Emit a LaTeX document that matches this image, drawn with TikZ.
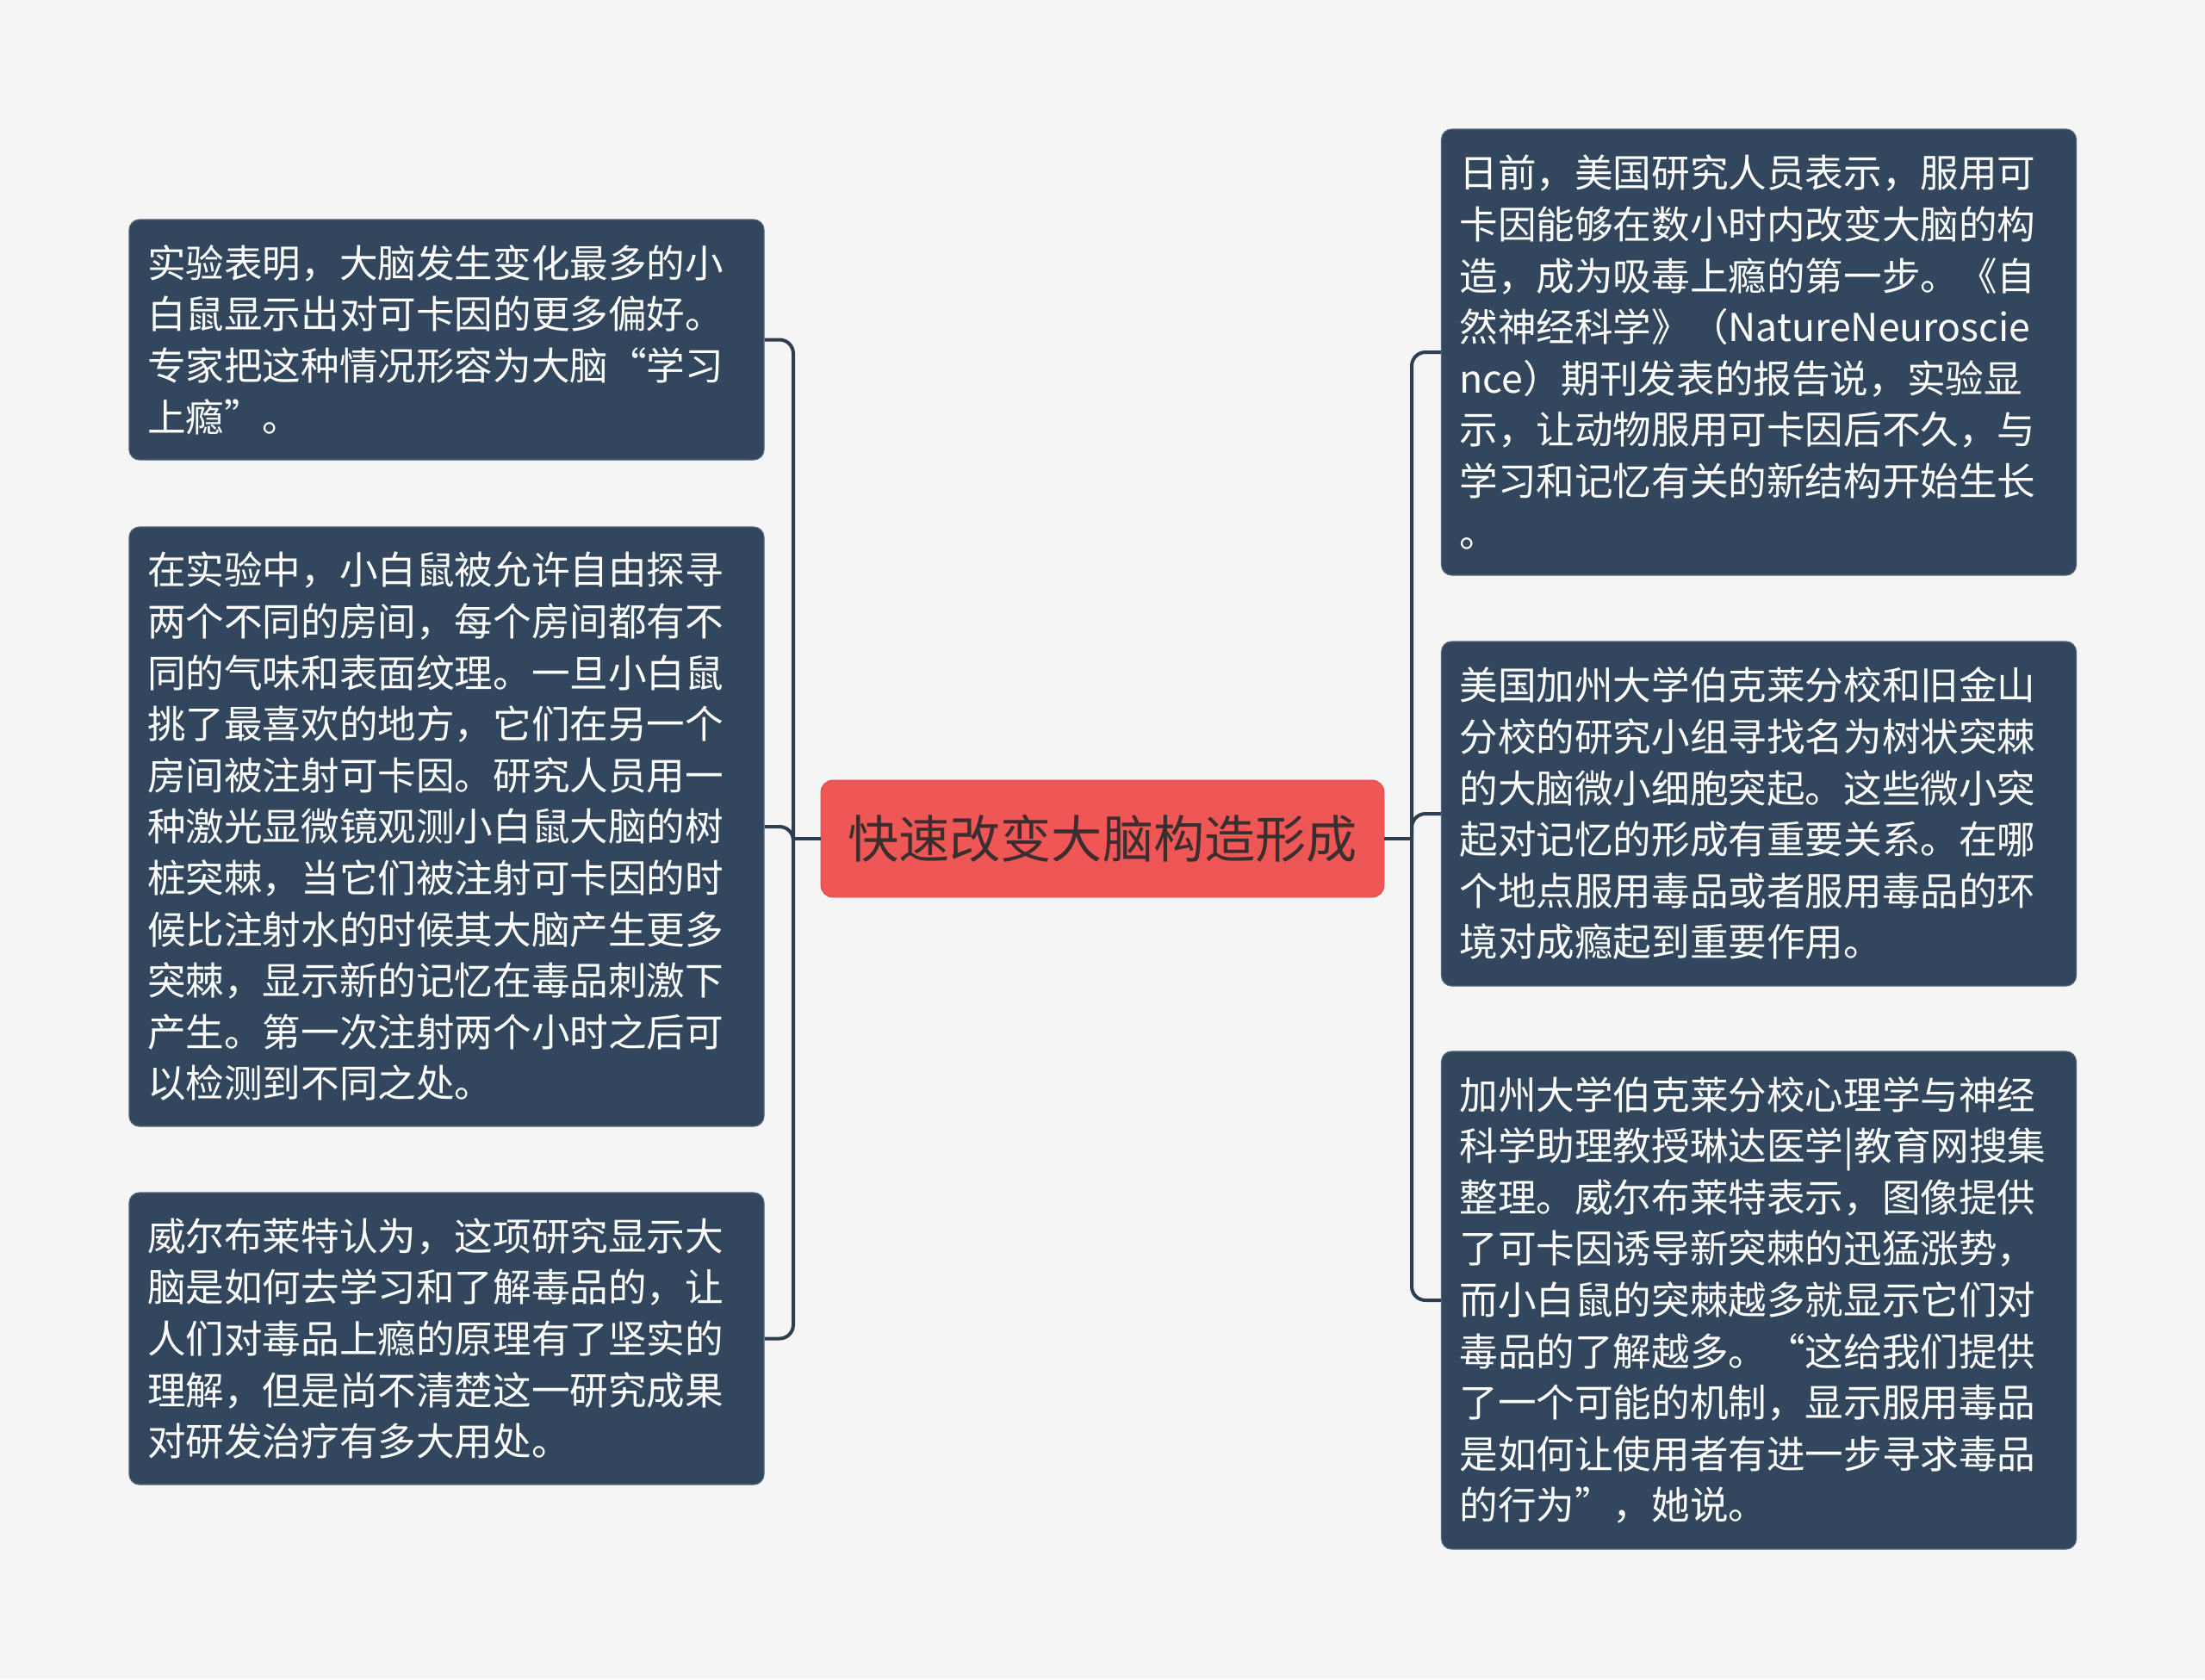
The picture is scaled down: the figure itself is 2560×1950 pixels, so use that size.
\documentclass[tikz,border=0pt]{standalone}
\usepackage{fontspec}
\setmainfont{Noto Sans CJK SC}
\definecolor{bgc}{RGB}{245,245,245}
\definecolor{boxc}{RGB}{50,71,94}
\definecolor{linec}{RGB}{44,62,80}
\definecolor{redc}{RGB}{239,86,86}
\definecolor{titlec}{RGB}{58,46,46}
\tikzset{
  leaf/.style={fill=boxc, draw=boxc!85!white, line width=0.6pt, rounded corners=6pt, text=white,
    text width=347.5pt, align=left, inner xsep=10.5pt, inner ysep=0pt,
    minimum width=368.5pt, font=\fontsize{22.3}{29.8}\selectfont},
  root/.style={fill=redc, draw=redc!90!black, line width=0.4pt, rounded corners=7pt, text=titlec,
    minimum width=327pt, minimum height=68pt, inner sep=0pt, font=\fontsize{29.6}{36}\selectfont},
  conn/.style={draw=linec, line width=2pt, rounded corners=8pt}
}
\begin{document}
\begin{tikzpicture}[x=0.5pt,y=-0.5pt]
\fill[bgc] (0,0) rectangle (2560,1950);
\node[root] (C) at (1280,974) {快速改变大脑构造形成};
\node[leaf, minimum height=139.5pt] (L1) at (518.5,394.5) {实验表明，大脑发生变化最多的小\\白鼠显示出对可卡因的更多偏好。\\专家把这种情况形容为大脑“学习\\上瘾”。};
\node[leaf, minimum height=348pt] (L2) at (518.5,960) {在实验中，小白鼠被允许自由探寻\\两个不同的房间，每个房间都有不\\同的气味和表面纹理。一旦小白鼠\\挑了最喜欢的地方，它们在另一个\\房间被注射可卡因。研究人员用一\\种激光显微镜观测小白鼠大脑的树\\桩突棘，当它们被注射可卡因的时\\候比注射水的时候其大脑产生更多\\突棘，显示新的记忆在毒品刺激下\\产生。第一次注射两个小时之后可\\以检测到不同之处。};
\node[leaf, minimum height=169.5pt] (L3) at (518.5,1554.5) {威尔布莱特认为，这项研究显示大\\脑是如何去学习和了解毒品的，让\\人们对毒品上瘾的原理有了坚实的\\理解，但是尚不清楚这一研究成果\\对研发治疗有多大用处。};
\node[leaf, minimum height=259pt] (R1) at (2042,409) {日前，美国研究人员表示，服用可\\卡因能够在数小时内改变大脑的构\\造，成为吸毒上瘾的第一步。《自\\然神经科学》（NatureNeuroscie\\nce）期刊发表的报告说，实验显\\示，让动物服用可卡因后不久，与\\学习和记忆有关的新结构开始生长\\。};
\node[leaf, minimum height=200pt] (R2) at (2042,945) {美国加州大学伯克莱分校和旧金山\\分校的研究小组寻找名为树状突棘\\的大脑微小细胞突起。这些微小突\\起对记忆的形成有重要关系。在哪\\个地点服用毒品或者服用毒品的环\\境对成瘾起到重要作用。};
\node[leaf, minimum height=289pt] (R3) at (2042,1510) {加州大学伯克莱分校心理学与神经\\科学助理教授琳达医学|教育网搜集\\整理。威尔布莱特表示，图像提供\\了可卡因诱导新突棘的迅猛涨势，\\而小白鼠的突棘越多就显示它们对\\毒品的了解越多。“这给我们提供\\了一个可能的机制，显示服用毒品\\是如何让使用者有进一步寻求毒品\\的行为”，她说。};
\coordinate (lj) at (921,974);
\coordinate (rj) at (1639,974);
\draw[conn] (C.west) -- (lj);
\draw[conn] (L1.east) -| (lj);
\draw[conn] (L2.east) -| (lj);
\draw[conn] (L3.east) -| (lj);
\draw[conn] (C.east) -- (rj);
\draw[conn] (rj) |- (R1.west);
\draw[conn] (rj) |- (R2.west);
\draw[conn] (rj) |- (R3.west);
\end{tikzpicture}
\end{document}
